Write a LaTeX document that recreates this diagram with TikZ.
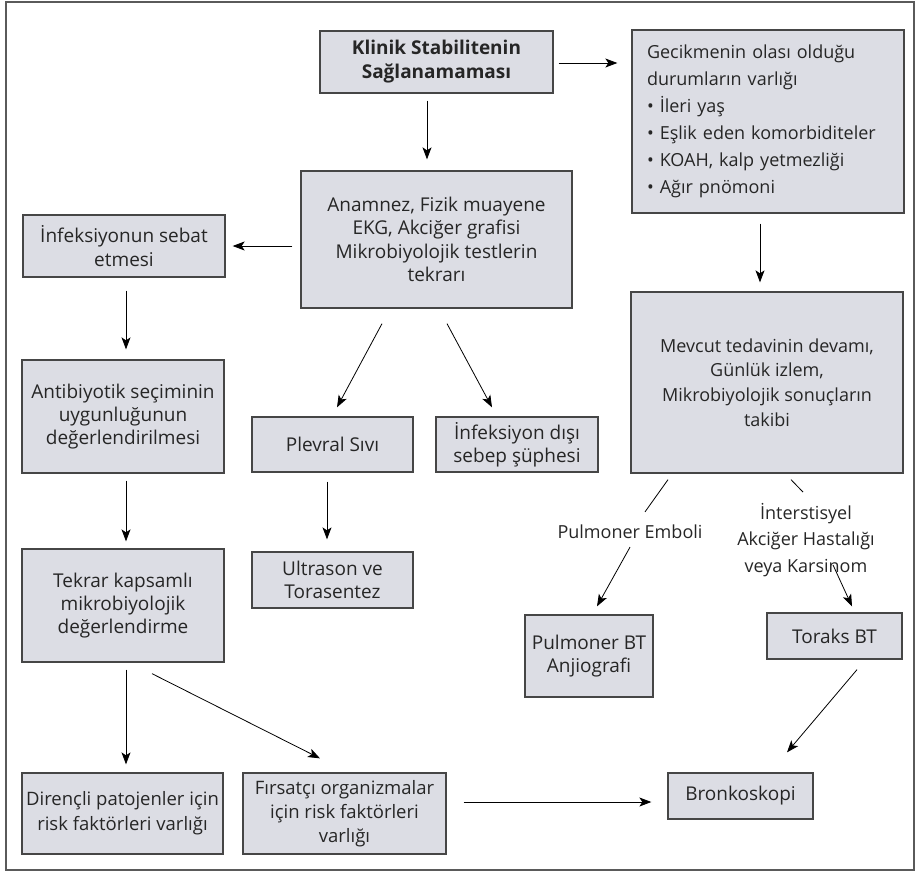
\documentclass[tikz,border=0pt]{standalone}
\usepackage{fontspec}
\setmainfont{Open Sans}
\usetikzlibrary{arrows.meta,calc}

\definecolor{boxfill}{RGB}{220,221,228}
\definecolor{boxline}{RGB}{70,70,70}
\definecolor{framegray}{RGB}{90,90,90}

\tikzset{
  box/.style={draw=boxline, line width=1.3pt, fill=boxfill, inner sep=0pt,
    align=center, font=\fontsize{19}{23.3}\selectfont, text=black!85},
  lbl/.style={inner sep=0pt, align=center, font=\fontsize{18}{26.5}\selectfont, text=black!85},
  arr/.style={draw=black, line width=0.8pt, -{Stealth[length=12pt,width=9pt,inset=3pt]}},
  seg/.style={draw=black, line width=0.8pt},
}

\begin{document}
\begin{tikzpicture}[x=1pt,y=-1pt]
\useasboundingbox (0,0) rectangle (921,876);
\draw[framegray, line width=2pt] (6,2) rectangle (914,870);

% boxes
\node[box, minimum width=233, minimum height=62, font=\fontsize{19}{24}\selectfont\bfseries]
  (klinik) at (436.5,62) {Klinik Stabilitenin\\Sağlanamaması};
\node[box, minimum width=272, minimum height=183, align=left, text width=242,
  font=\fontsize{18}{27}\selectfont]
  (gecik) at (768,121.5) {Gecikmenin olası olduğu\\durumların varlığı\\• İleri yaş\\• Eşlik eden komorbiditeler\\• KOAH, kalp yetmezliği\\• Ağır pnömoni};
\node[box, minimum width=271, minimum height=137] (anam) at (436.5,239.5)
  {Anamnez, Fizik muayene\\EKG, Akciğer grafisi\\Mikrobiyolojik testlerin\\tekrarı};
\node[box, minimum width=202, minimum height=62] (infek) at (124,246)
  {İnfeksiyonun sebat\\etmesi};
\node[box, minimum width=202, minimum height=113] (anti) at (123,416.5)
  {Antibiyotik seçiminin\\uygunluğunun\\değerlendirilmesi};
\node[box, minimum width=202, minimum height=113] (tekrar) at (123,605.5)
  {Tekrar kapsamlı\\mikrobiyolojik\\değerlendirme};
\node[box, minimum width=201, minimum height=81, font=\fontsize{18.5}{25}\selectfont] (diren) at (122.5,813.5)
  {Dirençli patojenler için\\risk faktörleri varlığı};
\node[box, minimum width=203, minimum height=81, font=\fontsize{18.5}{24}\selectfont] (firsat) at (344.5,813.5)
  {Fırsatçı organizmalar\\için risk faktörleri\\varlığı};
\node[box, minimum width=161, minimum height=55] (plevral) at (332.5,444.5)
  {Plevral Sıvı};
\node[box, minimum width=162, minimum height=55] (infdisi) at (517,444.5)
  {İnfeksiyon dışı\\sebep şüphesi};
\node[box, minimum width=161, minimum height=56] (ultra) at (332.5,580)
  {Ultrason ve\\Torasentez};
\node[box, minimum width=272, minimum height=181, font=\fontsize{18}{24.7}\selectfont] (mevcut) at (767,382.5)
  {Mevcut tedavinin devamı,\\Günlük izlem,\\Mikrobiyolojik sonuçların\\takibi};
\node[box, minimum width=128, minimum height=82] (pulbt) at (589,656)
  {Pulmoner BT\\Anjiografi};
\node[box, minimum width=135, minimum height=46] (toraks) at (834.5,636)
  {Toraks BT};
\node[box, minimum width=145, minimum height=46] (bronk) at (740.5,796)
  {Bronkoskopi};

% branch labels
\node[lbl] (emboli) at (630,532) {Pulmoner Emboli};
\node[lbl] (inter) at (806,540) {İnterstisyel\\Akciğer Hastalığı\\veya Karsinom};

% connectors
\draw[arr] ($(klinik.east)+(5,1)$) -- ($(gecik.west |- klinik.east)+(-14,1)$);
\draw[arr] ($(klinik.south)+(-9.5,7)$) -- ($(anam.north)+(-9.5,-11)$);
\draw[arr] ($(anam.west |- infek.east)+(-8,0)$) -- ($(infek.east)+(7,0)$);
\draw[arr] ($(infek.south)+(2,13)$) -- ($(anti.north)+(3,-10)$);
\draw[arr] ($(anti.south)+(3,7)$) -- ($(tekrar.north)+(3,-7)$);
\draw[arr] ($(tekrar.south)+(3,7)$) -- ($(diren.north)+(3.5,-8)$);
\draw[arr] ($(tekrar.south)+(29,11)$) -- ($(firsat.north)+(-24.5,-14)$);
\draw[arr] ($(firsat.east)+(17,-11.5)$) -- ($(bronk.west)+(-16,6)$);
\draw[arr] ($(anam.south)+(-54.5,15)$) -- ($(plevral.north)+(4.5,-9)$);
\draw[arr] ($(anam.south)+(10.5,15)$) -- ($(infdisi.north)+(-25,-9)$);
\draw[arr] ($(plevral.south)+(-5.5,9)$) -- ($(ultra.north)+(-5.5,-12)$);
\draw[arr] ($(gecik.south)+(-8,10)$) -- ($(mevcut.north)+(-7,-9)$);
\draw[seg] ($(mevcut.south)+(-99,6)$) -- ($(emboli.north)+(15,-13)$);
\draw[arr] ($(emboli.south)+(0,8)$) -- ($(pulbt.north)+(8,-8)$);
\draw[seg] ($(mevcut.south)+(24,6)$) -- ($(inter.north)+(-3,-11)$);
\draw[arr] ($(inter.south)+(27,-12)$) -- ($(toraks.north)+(17.5,-6)$);
\draw[arr] ($(toraks.south)+(22.5,10)$) -- ($(bronk.north)+(46.5,-20)$);
\end{tikzpicture}
\end{document}
